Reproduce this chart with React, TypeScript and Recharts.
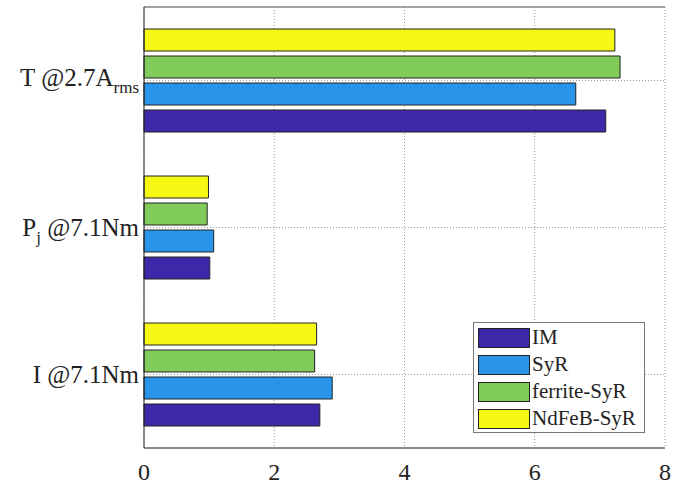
import { BarChart, Bar, XAxis, YAxis, CartesianGrid, ReferenceArea } from "recharts";

// categories, top to bottom
const categories = ["T", "Pj", "I"];
const xTicks = [0, 2, 4, 6, 8];

// series values, same order as categories
const imValues = [7.09, 1.01, 2.7];
const syrValues = [6.63, 1.07, 2.89];
const ferriteValues = [7.31, 0.97, 2.62];
const ndfebValues = [7.23, 0.99, 2.65];

const series = [
  { key: "im", name: "IM", color: "#3c28a8" },
  { key: "syr", name: "SyR", color: "#2a95e8" },
  { key: "ferrite", name: "ferrite-SyR", color: "#80cb5a" },
  { key: "ndfeb", name: "NdFeB-SyR", color: "#f7f714" },
];

const data = categories.map((cat, i) => ({
  cat,
  im: imValues[i],
  syr: syrValues[i],
  ferrite: ferriteValues[i],
  ndfeb: ndfebValues[i],
}));

const FONT = "'Liberation Serif', 'Times New Roman', serif";
const INK = "#222";
const PLOT_W = 521; // used only for the top-edge dash trick

// y-axis labels with subscripts
const CatTick = ({ x, y, payload }: any) => {
  const v = payload.value;
  const common = { x: x + 3, textAnchor: "end" as const, fontFamily: FONT, fontSize: 25, fill: INK };
  if (v === "T") {
    return (
      <text {...common} y={y + 5}>
        T @2.7A<tspan dy={7} fontSize={17}>rms</tspan>
      </text>
    );
  }
  if (v === "Pj") {
    return (
      <text {...common} y={y + 8}>
        P<tspan dy={7} fontSize={17}>j</tspan>
        <tspan dy={-7}> @7.1Nm</tspan>
      </text>
    );
  }
  return (
    <text {...common} y={y + 8}>
      I @7.1Nm
    </text>
  );
};

const LegendBox = () => (
  <div
    style={{
      position: "absolute",
      left: 473,
      top: 322,
      width: 172,
      height: 111,
      boxSizing: "border-box",
      background: "#fff",
      border: "1px solid #777",
      padding: "1px 2px 0 4px",
      fontFamily: FONT,
      fontSize: 21,
      lineHeight: "27px",
      color: INK,
      whiteSpace: "nowrap",
    }}
  >
    {series.map((s) => (
      <div key={s.key} style={{ display: "flex", alignItems: "center", height: 27 }}>
        <div
          style={{
            width: 52,
            height: 20,
            flexShrink: 0,
            boxSizing: "border-box",
            background: s.color,
            border: "1px solid #222",
            marginRight: 2,
          }}
        />
        <span>{s.name}</span>
      </div>
    ))}
  </div>
);

export default function App() {
  return (
    <div style={{ position: "absolute", left: 0, top: 0, width: 682, height: 488, background: "#fff" }}>
      <BarChart
        width={682}
        height={488}
        data={data}
        layout="vertical"
        margin={{ top: 7, right: 17, left: 0, bottom: 0 }}
        barSize={22}
        barGap={5}
      >
        <CartesianGrid stroke="#999" strokeDasharray="1 2" />
        <XAxis
          type="number"
          domain={[0, 8]}
          ticks={xTicks}
          height={40}
          axisLine={{ stroke: INK }}
          tickLine={false}
          tickMargin={9}
          tick={{ fontFamily: FONT, fontSize: 24, fill: INK }}
        />
        <YAxis
          type="category"
          dataKey="cat"
          width={144}
          axisLine={{ stroke: INK }}
          tickLine={false}
          tick={<CatTick />}
        />
        {/* top edge of the box, solid gray */}
        <ReferenceArea
          x1={0}
          x2={8}
          fill="none"
          stroke="#8a8a8a"
          strokeWidth={1.5}
          strokeDasharray={`${PLOT_W} 4000`}
        />
        {/* top bar in each group first */}
        {[...series].reverse().map((s) => (
          <Bar
            key={s.key}
            dataKey={s.key}
            name={s.name}
            fill={s.color}
            stroke="#222"
            strokeWidth={1}
            isAnimationActive={false}
          />
        ))}
      </BarChart>
      <LegendBox />
    </div>
  );
}
